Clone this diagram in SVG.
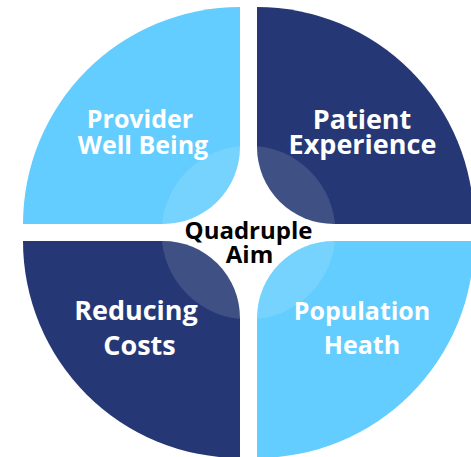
<svg xmlns="http://www.w3.org/2000/svg" width="471" height="457" viewBox="0 0 471 457">
  <style>
    .navy { fill: #253875; }
    .sky { fill: #62cdfe; }
    .label { font-family: "Open Sans", "Liberation Sans", sans-serif; font-weight: 700; font-size: 25px; fill: #ffffff; text-anchor: middle; }
    .label.big { font-size: 27px; }
    .hub { font-family: "Open Sans", "Liberation Sans", sans-serif; font-weight: 700; font-size: 24px; fill: #000000; text-anchor: middle; }
  </style>
  <rect width="471" height="457" fill="#ffffff"/>

  <g id="provider-well-being">
    <path class="sky" d="M 23 224 A 217 217 0 0 1 240 7 L 240 147 A 77 77 0 0 1 163 224 Z"/>
  </g>
  <g id="patient-experience">
    <path class="navy" d="M 257 7 A 217 217 0 0 1 474 224 L 334 224 A 77 77 0 0 1 257 147 Z"/>
  </g>
  <g id="population-health">
    <path class="sky" d="M 474 241 A 217 217 0 0 1 257 458 L 257 318 A 77 77 0 0 1 334 241 Z"/>
  </g>
  <g id="reducing-costs">
    <path class="navy" d="M 240 458 A 217 217 0 0 1 23 241 L 163 241 A 77 77 0 0 1 240 318 Z"/>
  </g>

  <!-- soft highlight ring around the hub -->
  <circle cx="248.5" cy="232.5" r="87" fill="#ffffff" fill-opacity="0.12"/>

  <g id="labels">
    <text class="label" x="140" y="128">Provider</text>
    <text class="label" x="143" y="154">Well Being</text>
    <text class="label big" x="362" y="128.5">Patient</text>
    <text class="label big" x="362.5" y="153.5">Experience</text>
    <text class="label big" x="136" y="320">Reducing</text>
    <text class="label big" x="139.5" y="355">Costs</text>
    <text class="label" x="362" y="320">Population</text>
    <text class="label" x="362" y="354">Heath</text>
  </g>

  <g id="quadruple-aim">
    <text class="hub" x="248.5" y="238.5">Quadruple</text>
    <text class="hub" x="249.5" y="263">Aim</text>
  </g>

  <g id="connectors"/>
</svg>
